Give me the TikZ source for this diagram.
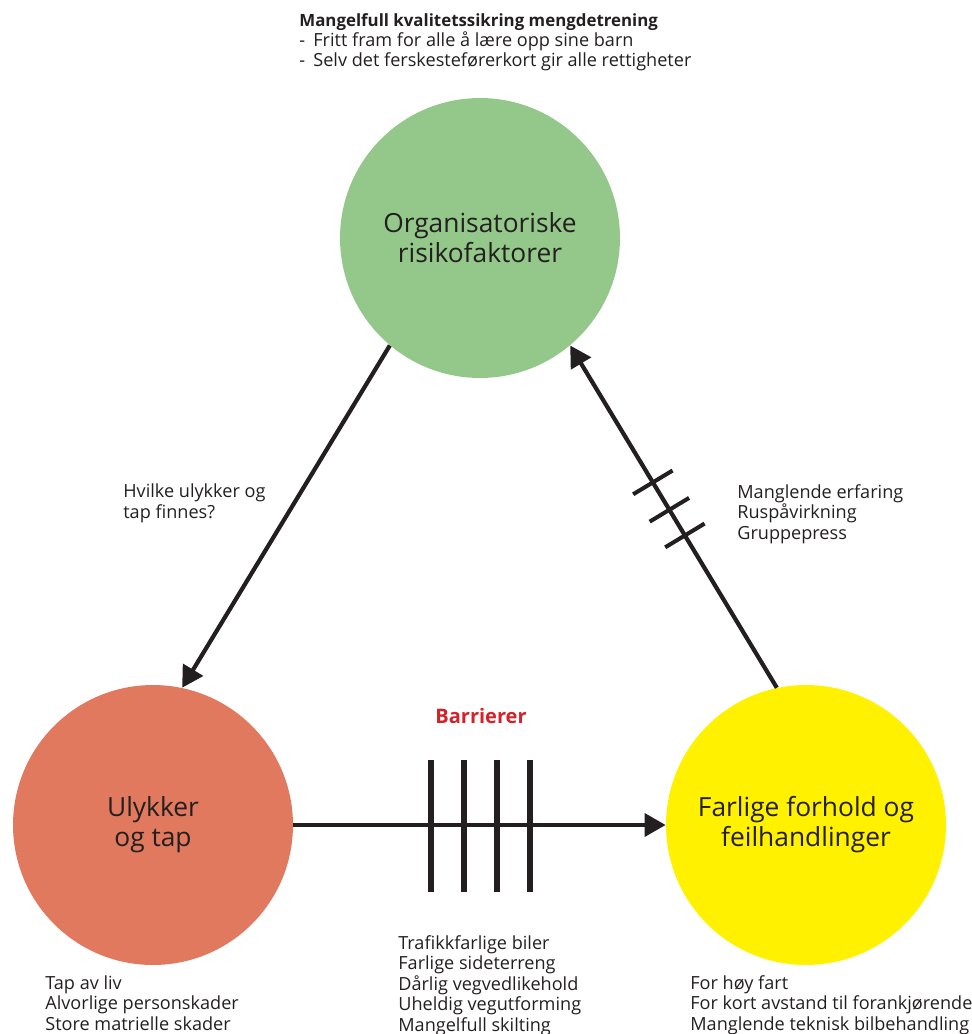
\documentclass[tikz,border=0pt]{standalone}
\usepackage{fontspec}
\setmainfont{Open Sans}
\usetikzlibrary{arrows.meta,decorations.markings}

\definecolor{orggreen}{RGB}{148,200,138}
\definecolor{ulyred}{RGB}{224,121,94}
\definecolor{farlyellow}{RGB}{255,241,0}
\definecolor{barred}{RGB}{210,35,42}
\definecolor{ink}{RGB}{35,31,32}

\tikzset{
  bigcirc/.style={circle, minimum size=5.6cm, inner sep=0pt, text=ink,
    align=center, font=\fontsize{15}{17}\selectfont},
  smalltxt/.style={anchor=base west, align=left, text=ink, inner sep=0pt,
    font=\fontsize{10.3}{11.6}\selectfont},
  conn/.style={draw=ink, line width=2.4pt, -{Triangle[length=12pt,width=13pt]}},
  barrier/.style={draw=ink, line width=3.8pt},
  crossbar/.style={postaction=decorate, decoration={markings,
    mark=at position 0.445 with {\draw[ink, line width=2.3pt, -] (0,-23) -- (0,23);},
    mark=at position 0.52 with {\draw[ink, line width=2.3pt, -] (0,-23) -- (0,23);},
    mark=at position 0.60 with {\draw[ink, line width=2.3pt, -] (0,-23) -- (0,23);}}}
}

\begin{document}
\begin{tikzpicture}[x=0.02cm, y=-0.02cm]
\useasboundingbox (0,0) rectangle (971,1034);

% the three circles
\node[bigcirc, fill=orggreen]   (org)    at (480,238) {Organisatoriske\\risikofaktorer};
\node[bigcirc, fill=ulyred]     (ulykke) at (153,825) {Ulykker\\og tap};
\node[bigcirc, fill=farlyellow] (farlig) at (806,825) {Farlige forhold og\\feilhandlinger};

% connectors
\draw[conn] (org.230) -- (ulykke.78);
\draw[conn] (ulykke.east) -- (farlig.west);
\draw[conn, crossbar] (farlig.102) -- (org.310);

% barriers on the bottom arrow
\foreach \x in {431,464,497,530}
  \draw[barrier] (\x,760) -- (\x,892);
\node[anchor=base, text=barred, font=\fontsize{11.4}{13}\selectfont\bfseries] (barr) at (481,723) {Barrierer};

% labels (base = last line)
\node[smalltxt] (toptxt) at (299,67) {{\fontsize{9.6}{11.6}\selectfont\bfseries Mangelfull kvalitetssikring mengdetrening}\\
  \makebox[8pt][l]{-}Fritt fram for alle å lære opp sine barn\\
  \makebox[8pt][l]{-}Selv det ferskesteførerkort gir alle rettigheter};
\node[smalltxt] (hvilke) at (123,518) {Hvilke ulykker og\\tap finnes?};
\node[smalltxt] (mangl) at (737,539) {Manglende erfaring\\Ruspåvirkning\\Gruppepress};
\node[smalltxt] (veg) at (398,1031) {Trafikkfarlige biler\\Farlige sideterreng\\Dårlig vegvedlikehold\\Uheldig vegutforming\\Mangelfull skilting};
\node[smalltxt] (tap) at (45,1030) {Tap av liv\\Alvorlige personskader\\Store matrielle skader};
\node[smalltxt] (fart) at (690,1030) {For høy fart\\For kort avstand til forankjørende\\Manglende teknisk bilbehandling};
\end{tikzpicture}
\end{document}
